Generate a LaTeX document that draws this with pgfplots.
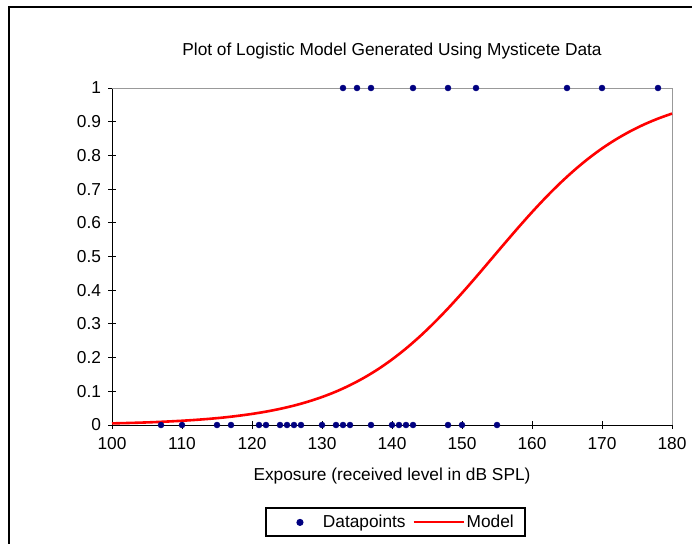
\documentclass[border=0pt]{standalone}
\usepackage{pgfplots}
\pgfplotsset{compat=1.18}
\usepackage{fontspec}
\setmainfont{Liberation Sans}
\definecolor{navy}{RGB}{0,0,128}
\newcommand{\chartfont}{\fontsize{17.3bp}{20bp}\selectfont}
\begin{document}
\chartfont
\begin{tikzpicture}
\useasboundingbox (0,0) rectangle (692bp,-544bp);
\clip (0,0) rectangle (692bp,-544bp);
\fill[white] (0,0) rectangle (692bp,-544bp);
\draw[line width=2bp] (9bp,-7bp) rectangle (710bp,-570bp);
\begin{axis}[
  at={(112bp,-88bp)}, anchor=north west,
  scale only axis, width=560bp, height=337bp,
  xmin=100, xmax=180, ymin=0, ymax=1,
  axis x line*=bottom, axis y line*=left,
  axis line style={black, line width=0.9bp, -},
  xtick={100,110,...,180},
  ytick={0,0.1,0.2,0.3,0.4,0.5,0.6,0.7,0.8,0.9,1},
  yticklabels={0,0.1,0.2,0.3,0.4,0.5,0.6,0.7,0.8,0.9,1},
  tick align=center, major tick length=8bp,
  tick style={black, line width=0.9bp},
  /pgf/number format/assume math mode=true,
  ticklabel style={font=\chartfont},
  x tick label style={yshift=-2bp},
  y tick label style={xshift=-1bp},
  clip=false,
  title={Plot of Logistic Model Generated Using Mysticete Data},
  title style={at={(axis description cs:0.5,1)}, anchor=center, yshift=31bp, font=\chartfont},
  xlabel={Exposure (received level in dB SPL)},
  xlabel style={at={(axis description cs:0.5,0)}, anchor=center, yshift=-51bp, font=\chartfont},
  legend columns=2,
  legend style={at={(axis description cs:0.506,-0.289)}, anchor=center, draw=black, line width=2bp,
    font=\chartfont, inner xsep=9bp, inner ysep=4.5bp,
    /tikz/every even column/.append style={column sep=5bp}},
]
\draw[gray!80, line width=1bp] (axis description cs:0,1) -- (axis description cs:1,1) -- (axis description cs:1,0);
\addplot[only marks, mark=*, mark size=3bp, color=navy, mark options={fill=navy, draw=navy},
  legend image code/.code={\fill[navy] (24bp,0bp) circle (2.5bp);\path (0,0) (44bp,0);}]
  coordinates {
  (107,0) (110,0) (115,0) (117,0) (121,0) (122,0) (124,0) (125,0) (126,0) (127,0)
  (130,0) (132,0) (133,0) (134,0) (137,0) (140,0) (141,0) (142,0) (143,0) (148,0)
  (150,0) (155,0)
  (133,1) (135,1) (137,1) (143,1) (148,1) (152,1) (165,1) (170,1) (178,1)
  };
\addlegendentry{Datapoints}
\addplot[color=red, line width=2.6bp, smooth,
  legend image code/.code={\draw[red, line width=2bp] (0bp,0bp) -- (50bp,0bp);}]
  coordinates {
  (100,0.0048) (102,0.0058) (104,0.0070) (106,0.0085) (108,0.0104) (110,0.0126)
  (112,0.0153) (114,0.0185) (116,0.0224) (118,0.0272) (120,0.0329) (122,0.0397)
  (124,0.0479) (126,0.0576) (128,0.0693) (130,0.0830) (132,0.0992) (134,0.1182)
  (136,0.1402) (138,0.1655) (140,0.1944) (142,0.2270) (144,0.2632) (146,0.3030)
  (148,0.3459) (150,0.3915) (152,0.4390) (154,0.4878) (156,0.5367) (158,0.5849)
  (160,0.6316) (162,0.6759) (164,0.7173) (166,0.7553) (168,0.7898) (170,0.8206)
  (172,0.8476) (174,0.8712) (176,0.8917) (178,0.9092) (180,0.9241)
  };
\addlegendentry{Model}
\end{axis}
\end{tikzpicture}
\end{document}
